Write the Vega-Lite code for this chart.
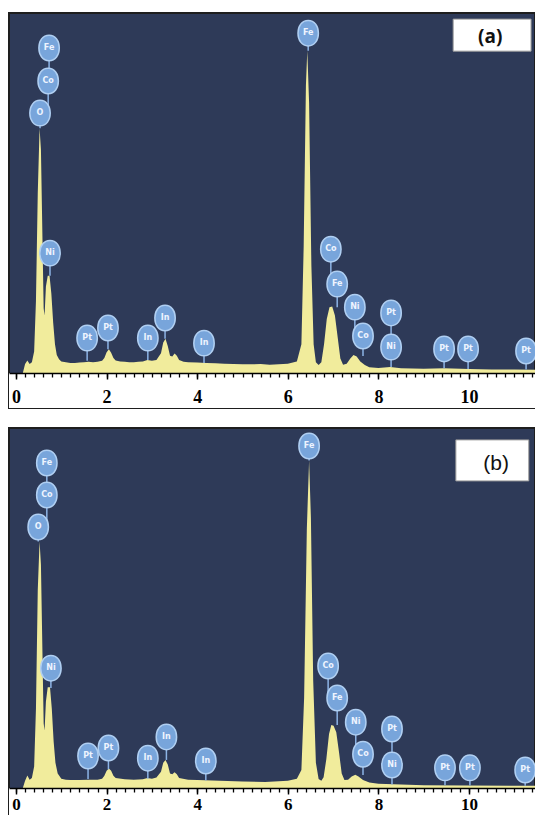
{
  "$schema": "https://vega.github.io/schema/vega-lite/v6.json",
  "background": "white",
  "padding": {"left": 8, "top": 12, "right": 1, "bottom": 0},
  "autosize": {"type": "pad"},
  "spacing": 18,
  "config": {
    "view": {"fill": "#2e3a58", "stroke": "#1e1e1e", "strokeWidth": 2}
  },
  "datasets": {
    "specA": [
      {"E": -0.155, "I": 0}, {"E": 0.15, "I": 0}, {"E": 0.2, "I": 2.5}, {"E": 0.25, "I": 3.5}, {"E": 0.3, "I": 2.5},
      {"E": 0.35, "I": 3}, {"E": 0.4, "I": 6}, {"E": 0.44, "I": 20}, {"E": 0.48, "I": 50}, {"E": 0.52, "I": 68},
      {"E": 0.55, "I": 62}, {"E": 0.58, "I": 40}, {"E": 0.61, "I": 18}, {"E": 0.63, "I": 16}, {"E": 0.66, "I": 24},
      {"E": 0.7, "I": 27}, {"E": 0.74, "I": 27}, {"E": 0.78, "I": 22}, {"E": 0.82, "I": 14}, {"E": 0.86, "I": 8},
      {"E": 0.9, "I": 5}, {"E": 0.95, "I": 3.8}, {"E": 1.0, "I": 3.2}, {"E": 1.1, "I": 3}, {"E": 1.2, "I": 2.8},
      {"E": 1.3, "I": 2.8}, {"E": 1.4, "I": 2.9}, {"E": 1.5, "I": 3}, {"E": 1.6, "I": 3.1}, {"E": 1.7, "I": 3},
      {"E": 1.8, "I": 3.1}, {"E": 1.9, "I": 3.4}, {"E": 1.95, "I": 4.2}, {"E": 2.0, "I": 5.8}, {"E": 2.05, "I": 6.6},
      {"E": 2.1, "I": 5.6}, {"E": 2.15, "I": 4.2}, {"E": 2.2, "I": 3.5}, {"E": 2.3, "I": 3.2}, {"E": 2.4, "I": 3.1},
      {"E": 2.5, "I": 3.0}, {"E": 2.6, "I": 3.0}, {"E": 2.7, "I": 3.1}, {"E": 2.8, "I": 3.2}, {"E": 2.9, "I": 3.6},
      {"E": 3.0, "I": 3.4}, {"E": 3.1, "I": 3.6}, {"E": 3.2, "I": 5.5}, {"E": 3.25, "I": 8.5}, {"E": 3.3, "I": 9.5},
      {"E": 3.35, "I": 7.5}, {"E": 3.4, "I": 4.8}, {"E": 3.45, "I": 4.6}, {"E": 3.5, "I": 5.4}, {"E": 3.55, "I": 4.8},
      {"E": 3.6, "I": 3.6}, {"E": 3.7, "I": 3.1}, {"E": 3.8, "I": 3.0}, {"E": 4.0, "I": 2.9}, {"E": 4.2, "I": 2.8},
      {"E": 4.4, "I": 2.7}, {"E": 4.6, "I": 2.6}, {"E": 4.8, "I": 2.5}, {"E": 5.0, "I": 2.4}, {"E": 5.2, "I": 2.4},
      {"E": 5.4, "I": 2.5}, {"E": 5.6, "I": 2.3}, {"E": 5.8, "I": 2.4}, {"E": 6.0, "I": 2.6}, {"E": 6.2, "I": 3.2},
      {"E": 6.3, "I": 8}, {"E": 6.35, "I": 35}, {"E": 6.4, "I": 80}, {"E": 6.43, "I": 89.5}, {"E": 6.47, "I": 75},
      {"E": 6.52, "I": 30}, {"E": 6.57, "I": 8}, {"E": 6.62, "I": 3}, {"E": 6.68, "I": 2.2}, {"E": 6.74, "I": 3},
      {"E": 6.8, "I": 8}, {"E": 6.86, "I": 15}, {"E": 6.92, "I": 18.3}, {"E": 6.98, "I": 18.5}, {"E": 7.04, "I": 16},
      {"E": 7.1, "I": 10}, {"E": 7.16, "I": 4}, {"E": 7.22, "I": 2.3}, {"E": 7.3, "I": 2.6}, {"E": 7.38, "I": 4},
      {"E": 7.45, "I": 5}, {"E": 7.52, "I": 4.6}, {"E": 7.6, "I": 3.2}, {"E": 7.7, "I": 2.2}, {"E": 7.8, "I": 1.6},
      {"E": 8.0, "I": 1.4}, {"E": 8.26, "I": 1.7}, {"E": 8.5, "I": 1.3}, {"E": 9.0, "I": 1.2}, {"E": 9.45, "I": 1.3},
      {"E": 10.0, "I": 1.1}, {"E": 10.5, "I": 1.0}, {"E": 11.0, "I": 1.0}, {"E": 11.457, "I": 0.9}
    ],
    "specB": [
      {"E": -0.155, "I": 0}, {"E": 0.15, "I": 0}, {"E": 0.2, "I": 2}, {"E": 0.25, "I": 3.5}, {"E": 0.3, "I": 2.3},
      {"E": 0.35, "I": 2.8}, {"E": 0.4, "I": 6}, {"E": 0.44, "I": 22}, {"E": 0.48, "I": 55}, {"E": 0.52, "I": 68.5},
      {"E": 0.55, "I": 62}, {"E": 0.58, "I": 40}, {"E": 0.61, "I": 18}, {"E": 0.63, "I": 16}, {"E": 0.66, "I": 24},
      {"E": 0.7, "I": 28}, {"E": 0.75, "I": 28}, {"E": 0.79, "I": 22}, {"E": 0.83, "I": 13}, {"E": 0.87, "I": 7},
      {"E": 0.92, "I": 4}, {"E": 1.0, "I": 2.6}, {"E": 1.1, "I": 2.3}, {"E": 1.2, "I": 2.2}, {"E": 1.4, "I": 2.2},
      {"E": 1.6, "I": 2.3}, {"E": 1.8, "I": 2.3}, {"E": 1.9, "I": 2.6}, {"E": 1.95, "I": 3.4}, {"E": 2.0, "I": 4.8},
      {"E": 2.05, "I": 5.4}, {"E": 2.1, "I": 4.8}, {"E": 2.15, "I": 3.4}, {"E": 2.2, "I": 2.8}, {"E": 2.4, "I": 2.4},
      {"E": 2.6, "I": 2.3}, {"E": 2.8, "I": 2.4}, {"E": 2.9, "I": 2.8}, {"E": 3.0, "I": 2.6}, {"E": 3.1, "I": 2.9},
      {"E": 3.2, "I": 4.5}, {"E": 3.25, "I": 7}, {"E": 3.3, "I": 7.8}, {"E": 3.35, "I": 6.5}, {"E": 3.4, "I": 4},
      {"E": 3.45, "I": 3.8}, {"E": 3.5, "I": 4.4}, {"E": 3.55, "I": 3.8}, {"E": 3.6, "I": 2.8}, {"E": 3.8, "I": 2.3},
      {"E": 4.0, "I": 2.2}, {"E": 4.5, "I": 2.0}, {"E": 5.0, "I": 1.8}, {"E": 5.5, "I": 1.7}, {"E": 6.0, "I": 2.0},
      {"E": 6.2, "I": 2.6}, {"E": 6.3, "I": 5}, {"E": 6.36, "I": 25}, {"E": 6.42, "I": 72}, {"E": 6.47, "I": 91},
      {"E": 6.51, "I": 75}, {"E": 6.56, "I": 30}, {"E": 6.62, "I": 7}, {"E": 6.68, "I": 2.5}, {"E": 6.74, "I": 2},
      {"E": 6.79, "I": 3}, {"E": 6.85, "I": 8}, {"E": 6.91, "I": 15}, {"E": 6.96, "I": 17.5}, {"E": 7.01, "I": 17.3},
      {"E": 7.07, "I": 15.5}, {"E": 7.13, "I": 10}, {"E": 7.19, "I": 4}, {"E": 7.25, "I": 2.2}, {"E": 7.33, "I": 2.3},
      {"E": 7.41, "I": 3.2}, {"E": 7.49, "I": 3.7}, {"E": 7.56, "I": 3.2}, {"E": 7.66, "I": 2.2}, {"E": 7.8, "I": 1.5},
      {"E": 8.0, "I": 1.2}, {"E": 8.5, "I": 1.0}, {"E": 9.0, "I": 0.8}, {"E": 10.0, "I": 0.7}, {"E": 11.0, "I": 0.6},
      {"E": 11.457, "I": 0.6}
    ],
    "labA": [
      {"E": 0.73, "el": "Fe", "ly": 90.3, "sy": 81.1},
      {"E": 0.71, "el": "Co", "ly": 81.1, "sy": 72.2},
      {"E": 0.53, "el": "O", "ly": 72.2, "sy": 68},
      {"E": 0.75, "el": "Ni", "ly": 33.3, "sy": 27},
      {"E": 1.57, "el": "Pt", "ly": 9.7, "sy": 3.4},
      {"E": 2.03, "el": "Pt", "ly": 12.5, "sy": 6.6},
      {"E": 2.91, "el": "In", "ly": 9.7, "sy": 3.6},
      {"E": 3.29, "el": "In", "ly": 15.3, "sy": 9.5},
      {"E": 4.15, "el": "In", "ly": 8.3, "sy": 2.8},
      {"E": 6.45, "el": "Fe", "ly": 94.4, "sy": 89.5},
      {"E": 6.95, "el": "Co", "ly": 34.4, "sy": 24.7},
      {"E": 7.09, "el": "Fe", "ly": 24.7, "sy": 18.3},
      {"E": 7.48, "el": "Ni", "ly": 18.3, "sy": 10.3},
      {"E": 7.66, "el": "Co", "ly": 10.3, "sy": 4.7},
      {"E": 8.28, "el": "Pt", "ly": 16.7, "sy": 7.2},
      {"E": 8.28, "el": "Ni", "ly": 7.2, "sy": 1.7},
      {"E": 9.45, "el": "Pt", "ly": 6.7, "sy": 1.3},
      {"E": 9.98, "el": "Pt", "ly": 6.7, "sy": 1.1},
      {"E": 11.26, "el": "Pt", "ly": 6.1, "sy": 1.0}
    ],
    "labB": [
      {"E": 0.68, "el": "Fe", "ly": 90.3, "sy": 81.4},
      {"E": 0.68, "el": "Co", "ly": 81.4, "sy": 72.5},
      {"E": 0.49, "el": "O", "ly": 72.5, "sy": 68.5},
      {"E": 0.77, "el": "Ni", "ly": 33.3, "sy": 27.8},
      {"E": 1.59, "el": "Pt", "ly": 8.9, "sy": 2.5},
      {"E": 2.04, "el": "Pt", "ly": 11.1, "sy": 5.2},
      {"E": 2.91, "el": "In", "ly": 8.3, "sy": 2.6},
      {"E": 3.32, "el": "In", "ly": 14.2, "sy": 7.8},
      {"E": 4.19, "el": "In", "ly": 7.5, "sy": 2.1},
      {"E": 6.47, "el": "Fe", "ly": 95.0, "sy": 91},
      {"E": 6.89, "el": "Co", "ly": 33.9, "sy": 25},
      {"E": 7.09, "el": "Fe", "ly": 25, "sy": 17.5},
      {"E": 7.5, "el": "Ni", "ly": 18.3, "sy": 9.4},
      {"E": 7.66, "el": "Co", "ly": 9.4, "sy": 3.6},
      {"E": 8.3, "el": "Pt", "ly": 16.4, "sy": 6.4},
      {"E": 8.3, "el": "Ni", "ly": 6.4, "sy": 1.0},
      {"E": 9.47, "el": "Pt", "ly": 5.6, "sy": 0.8},
      {"E": 10.02, "el": "Pt", "ly": 5.6, "sy": 0.7},
      {"E": 11.24, "el": "Pt", "ly": 5.0, "sy": 0.6}
    ],
    "tagA": [{"tag": "(a)", "x1": 9.65, "x2": 11.37, "y1": 89.4, "y2": 98.3, "tx": 10.47, "ty": 93.2}],
    "tagB": [{"tag": "(b)", "x1": 9.71, "x2": 11.32, "y1": 85.3, "y2": 96.7, "tx": 10.6, "ty": 90.0}]
  },
  "vconcat": [
    {
      "width": 526,
      "height": 395,
      "resolve": {"axis": {"x": "independent"}},
      "layer": [
        {
          "data": {"values": [{}]},
          "mark": {"type": "rect", "fill": "white"},
          "encoding": {
            "x": {"datum": -0.155, "type": "quantitative", "scale": {"domain": [-0.155, 11.457], "nice": false, "zero": false}, "axis": null},
            "x2": {"datum": 11.457},
            "y": {"datum": -9.72, "type": "quantitative", "scale": {"domain": [-9.72, 100], "nice": false, "zero": false}, "axis": null},
            "y2": {"datum": 0}
          }
        },
        {
          "data": {"name": "specA"},
          "mark": {"type": "area", "color": "#f1ec9c", "interpolate": "linear"},
          "encoding": {
            "x": {"field": "E", "type": "quantitative", "scale": {"domain": [-0.155, 11.457], "nice": false, "zero": false},
              "axis": {"orient": "bottom", "values": [0,0.2,0.4,0.6,0.8,1,1.2,1.4,1.6,1.8,2,2.2,2.4,2.6,2.8,3,3.2,3.4,3.6,3.8,4,4.2,4.4,4.6,4.8,5,5.2,5.4,5.6,5.8,6,6.2,6.4,6.6,6.8,7,7.2,7.4,7.6,7.8,8,8.2,8.4,8.6,8.8,9,9.2,9.4,9.6,9.8,10,10.2,10.4,10.6,10.8,11,11.2,11.4],
                "labels": false, "domain": false, "grid": false, "title": null, "tickSize": 4, "tickWidth": 1.3, "tickColor": "black", "offset": -35, "zindex": 2}},
            "y": {"field": "I", "type": "quantitative", "scale": {"domain": [-9.72, 100], "nice": false, "zero": false}, "axis": null},
            "y2": {"datum": 0}
          }
        },
        {
          "data": {"name": "labA"},
          "mark": {"type": "rule", "color": "#8db4e6", "strokeWidth": 1.5},
          "encoding": {
            "x": {"field": "E", "type": "quantitative", "scale": {"domain": [-0.155, 11.457], "nice": false, "zero": false},
              "axis": {"orient": "bottom", "values": [0, 2, 4, 6, 8, 10], "offset": -35, "domain": true, "domainColor": "black", "domainWidth": 1.5,
                "ticks": true, "tickColor": "black", "tickSize": 6, "tickWidth": 1.5, "grid": false, "title": null,
                "labelFont": "Liberation Serif", "labelFontWeight": "bold", "labelFontSize": 18, "labelColor": "black",
                "labelPadding": 9, "labelFlush": false, "zindex": 2}},
            "y": {"field": "ly", "type": "quantitative", "axis": null},
            "y2": {"field": "sy"}
          }
        },
        {
          "data": {"name": "labA"},
          "mark": {"type": "point", "filled": true, "shape": "M0,-1C0.5,-1 0.8,-0.55 0.8,0C0.8,0.55 0.5,1 0,1C-0.5,1 -0.8,0.55 -0.8,0C-0.8,-0.55 -0.5,-1 0,-1Z", "size": 650, "fill": "#78a5db", "stroke": "#b0cff2", "strokeWidth": 1.5, "opacity": 1},
          "encoding": {
            "x": {"field": "E", "type": "quantitative", "axis": null},
            "y": {"field": "ly", "type": "quantitative", "axis": null}
          }
        },
        {
          "data": {"name": "labA"},
          "mark": {"type": "text", "fontSize": 8, "fontWeight": "bold", "color": "#eef4ff", "font": "DejaVu Sans"},
          "encoding": {
            "x": {"field": "E", "type": "quantitative", "axis": null},
            "y": {"field": "ly", "type": "quantitative", "axis": null},
            "text": {"field": "el"}
          }
        },
        {
          "data": {"name": "tagA"},
          "mark": {"type": "rect", "fill": "white", "stroke": "#9a9a9a", "strokeWidth": 1},
          "encoding": {
            "x": {"field": "x1", "type": "quantitative", "axis": null},
            "x2": {"field": "x2"},
            "y": {"field": "y1", "type": "quantitative", "axis": null},
            "y2": {"field": "y2"}
          }
        },
        {
          "data": {"name": "tagA"},
          "mark": {"type": "text", "fontSize": 19, "fontWeight": "bold", "color": "#111111", "font": "Open Sans"},
          "encoding": {
            "x": {"field": "tx", "type": "quantitative", "axis": null},
            "y": {"field": "ty", "type": "quantitative", "axis": null},
            "text": {"field": "tag"}
          }
        }
      ]
    },
    {
      "width": 526,
      "height": 390,
      "resolve": {"axis": {"x": "independent"}},
      "layer": [
        {
          "data": {"values": [{}]},
          "mark": {"type": "rect", "fill": "white"},
          "encoding": {
            "x": {"datum": -0.155, "type": "quantitative", "scale": {"domain": [-0.155, 11.457], "nice": false, "zero": false}, "axis": null},
            "x2": {"datum": 11.457},
            "y": {"datum": -8.33, "type": "quantitative", "scale": {"domain": [-8.33, 100], "nice": false, "zero": false}, "axis": null},
            "y2": {"datum": 0}
          }
        },
        {
          "data": {"name": "specB"},
          "mark": {"type": "area", "color": "#f1ec9c", "interpolate": "linear"},
          "encoding": {
            "x": {"field": "E", "type": "quantitative", "scale": {"domain": [-0.155, 11.457], "nice": false, "zero": false},
              "axis": {"orient": "bottom", "values": [0,0.2,0.4,0.6,0.8,1,1.2,1.4,1.6,1.8,2,2.2,2.4,2.6,2.8,3,3.2,3.4,3.6,3.8,4,4.2,4.4,4.6,4.8,5,5.2,5.4,5.6,5.8,6,6.2,6.4,6.6,6.8,7,7.2,7.4,7.6,7.8,8,8.2,8.4,8.6,8.8,9,9.2,9.4,9.6,9.8,10,10.2,10.4,10.6,10.8,11,11.2,11.4],
                "labels": false, "domain": false, "grid": false, "title": null, "tickSize": 4, "tickWidth": 1.3, "tickColor": "black", "offset": -30, "zindex": 2}},
            "y": {"field": "I", "type": "quantitative", "scale": {"domain": [-8.33, 100], "nice": false, "zero": false}, "axis": null},
            "y2": {"datum": 0}
          }
        },
        {
          "data": {"name": "labB"},
          "mark": {"type": "rule", "color": "#8db4e6", "strokeWidth": 1.5},
          "encoding": {
            "x": {"field": "E", "type": "quantitative", "scale": {"domain": [-0.155, 11.457], "nice": false, "zero": false},
              "axis": {"orient": "bottom", "values": [0, 2, 4, 6, 8, 10], "offset": -30, "domain": true, "domainColor": "black", "domainWidth": 1.5,
                "ticks": true, "tickColor": "black", "tickSize": 6, "tickWidth": 1.5, "grid": false, "title": null,
                "labelFont": "Liberation Serif", "labelFontWeight": "bold", "labelFontSize": 17, "labelColor": "black",
                "labelPadding": 2, "labelFlush": false, "zindex": 2}},
            "y": {"field": "ly", "type": "quantitative", "axis": null},
            "y2": {"field": "sy"}
          }
        },
        {
          "data": {"name": "labB"},
          "mark": {"type": "point", "filled": true, "shape": "M0,-1C0.5,-1 0.8,-0.55 0.8,0C0.8,0.55 0.5,1 0,1C-0.5,1 -0.8,0.55 -0.8,0C-0.8,-0.55 -0.5,-1 0,-1Z", "size": 650, "fill": "#78a5db", "stroke": "#b0cff2", "strokeWidth": 1.5, "opacity": 1},
          "encoding": {
            "x": {"field": "E", "type": "quantitative", "axis": null},
            "y": {"field": "ly", "type": "quantitative", "axis": null}
          }
        },
        {
          "data": {"name": "labB"},
          "mark": {"type": "text", "fontSize": 8, "fontWeight": "bold", "color": "#eef4ff", "font": "DejaVu Sans"},
          "encoding": {
            "x": {"field": "E", "type": "quantitative", "axis": null},
            "y": {"field": "ly", "type": "quantitative", "axis": null},
            "text": {"field": "el"}
          }
        },
        {
          "data": {"name": "tagB"},
          "mark": {"type": "rect", "fill": "white", "stroke": "#9a9a9a", "strokeWidth": 1},
          "encoding": {
            "x": {"field": "x1", "type": "quantitative", "axis": null},
            "x2": {"field": "x2"},
            "y": {"field": "y1", "type": "quantitative", "axis": null},
            "y2": {"field": "y2"}
          }
        },
        {
          "data": {"name": "tagB"},
          "mark": {"type": "text", "fontSize": 21, "fontWeight": "normal", "color": "#111111", "font": "Liberation Sans Narrow, Liberation Sans"},
          "encoding": {
            "x": {"field": "tx", "type": "quantitative", "axis": null},
            "y": {"field": "ty", "type": "quantitative", "axis": null},
            "text": {"field": "tag"}
          }
        }
      ]
    }
  ]
}
